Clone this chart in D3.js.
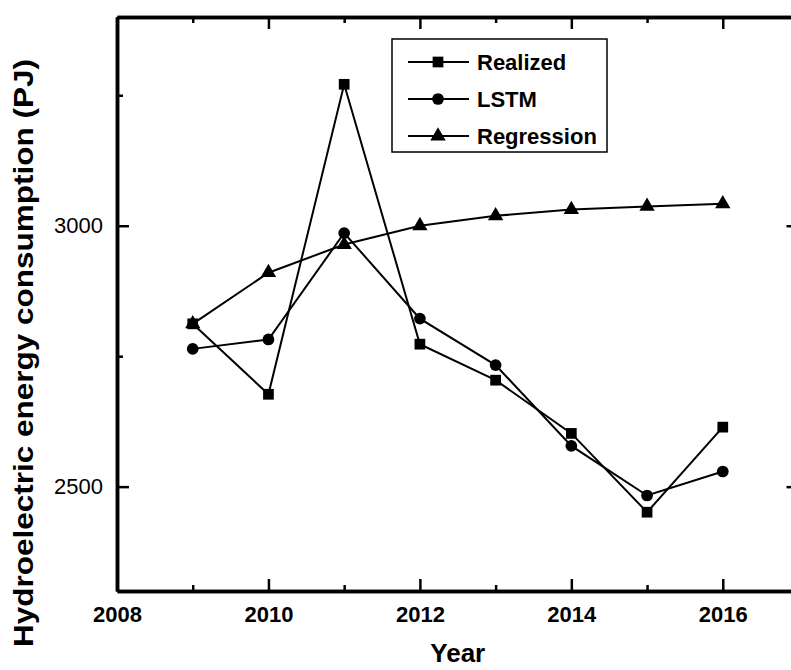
<!DOCTYPE html>
<html>
<head>
<meta charset="utf-8">
<script src="https://cdn.jsdelivr.net/npm/d3@7"></script>
<style>
  body { margin: 0; background: #fff; }
  text { font-family: "Liberation Sans", Arial, sans-serif; fill: #000; }
</style>
</head>
<body>
<script>
// data
var years = [2009, 2010, 2011, 2012, 2013, 2014, 2015, 2016];
var realized = [2812, 2677, 3271, 2773, 2704, 2602, 2451, 2614];
var lstm = [2764, 2782, 2986, 2822, 2733, 2578, 2483, 2529];
var regression = [2812, 2910, 2964, 3000, 3019, 3031, 3037, 3042];
var seriesNames = ["Realized", "LSTM", "Regression"];
var seriesShapes = ["square", "circle", "triangle"];
var xMajorTicks = [2008, 2010, 2012, 2014, 2016];
var xMinorTicks = [2009, 2011, 2013, 2015, 2017];
var yMajorTicks = [2500, 3000];
var yMinorTicks = [2750, 3250];

//Step 1: chart size (right frame edge runs just past the window, as in the source)
var svgWidth = 791;
var svgHeight = 670;
var margin = { top: 17, left: 117 };
var width = 681.5;
var height = 574;

var svg = d3.select("body")
  .append("svg")
  .attr("width", svgWidth)
  .attr("height", svgHeight);

var chartGroup = svg.append("g")
  .attr("transform", `translate(${margin.left}, ${margin.top})`);

// Step 2: scales
var xScale = d3.scaleLinear().domain([2008, 2017]).range([0, width]);
var yScale = d3.scaleLinear().domain([2300, 3400]).range([height, 0]);

// Step 3: axes, ticks pointing inward on all four sides
function styleAxis(g, showLabels, bold) {
  g.select(".domain").attr("stroke-width", 3.5).attr("stroke", "#000");
  g.selectAll(".tick line").attr("stroke-width", 2.5).attr("stroke", "#000");
  g.selectAll(".tick text")
    .style("font-size", "22px")
    .style("font-weight", bold ? "bold" : "normal")
    .style("display", showLabels ? null : "none");
}

var bottomAxis = d3.axisBottom(xScale).tickValues(xMajorTicks)
  .tickFormat(d3.format("d")).tickSizeInner(-12).tickSizeOuter(0).tickPadding(15);
var bottomMinor = d3.axisBottom(xScale).tickValues(xMinorTicks)
  .tickFormat("").tickSizeInner(-6).tickSizeOuter(0);
var topAxis = d3.axisTop(xScale).tickValues(xMajorTicks)
  .tickFormat("").tickSizeInner(-12).tickSizeOuter(0);
var topMinor = d3.axisTop(xScale).tickValues(xMinorTicks)
  .tickFormat("").tickSizeInner(-6).tickSizeOuter(0);
var leftAxis = d3.axisLeft(yScale).tickValues(yMajorTicks)
  .tickFormat(d3.format("d")).tickSizeInner(-12).tickSizeOuter(0).tickPadding(14);
var leftMinor = d3.axisLeft(yScale).tickValues(yMinorTicks)
  .tickFormat("").tickSizeInner(-6).tickSizeOuter(0);
var rightAxis = d3.axisRight(yScale).tickValues(yMajorTicks)
  .tickFormat("").tickSizeInner(-12).tickSizeOuter(0);
var rightMinor = d3.axisRight(yScale).tickValues(yMinorTicks)
  .tickFormat("").tickSizeInner(-6).tickSizeOuter(0);

chartGroup.append("g").attr("transform", `translate(0, ${height})`).call(bottomMinor).call(styleAxis, false);
chartGroup.append("g").attr("transform", `translate(0, ${height})`).call(bottomAxis).call(styleAxis, true, true);
chartGroup.append("g").call(topMinor).call(styleAxis, false);
chartGroup.append("g").call(topAxis).call(styleAxis, false);
chartGroup.append("g").call(leftMinor).call(styleAxis, false);
chartGroup.append("g").call(leftAxis).call(styleAxis, true, false);
chartGroup.append("g").attr("transform", `translate(${width}, 0)`).call(rightMinor).call(styleAxis, false);
chartGroup.append("g").attr("transform", `translate(${width}, 0)`).call(rightAxis).call(styleAxis, false);

// Step 4: lines + markers
var symbolTypes = {
  square: d3.symbol().type(d3.symbolSquare).size(115),
  circle: d3.symbol().type(d3.symbolCircle).size(108),
  triangle: d3.symbol().type(d3.symbolTriangle).size(102)
};

var line = d3.line()
  .x(function(d) { return xScale(d.year); })
  .y(function(d) { return yScale(d.value); });

var allSeries = [realized, lstm, regression];

allSeries.forEach(function(values, i) {
  var points = years.map(function(y, j) { return { year: y, value: values[j] }; });
  chartGroup.append("path")
    .datum(points)
    .attr("d", line)
    .attr("fill", "none")
    .attr("stroke", "#000")
    .attr("stroke-width", 2);
  chartGroup.selectAll(".pt" + i)
    .data(points)
    .enter()
    .append("path")
    .attr("class", "pt" + i)
    .attr("transform", function(d) {
      return `translate(${xScale(d.year)}, ${yScale(d.value)})`;
    })
    .attr("d", symbolTypes[seriesShapes[i]]())
    .attr("fill", "#000");
});

// legend
var legend = svg.append("g").attr("transform", "translate(392, 39)");
legend.append("rect")
  .attr("width", 215)
  .attr("height", 113)
  .attr("fill", "#fff")
  .attr("stroke", "#000")
  .attr("stroke-width", 1.5);

seriesNames.forEach(function(name, i) {
  var row = legend.append("g").attr("transform", `translate(0, ${23 + i * 37})`);
  row.append("line")
    .attr("x1", 16).attr("x2", 77)
    .attr("stroke", "#000").attr("stroke-width", 2);
  row.append("path")
    .attr("transform", "translate(46, 0)")
    .attr("d", symbolTypes[seriesShapes[i]]())
    .attr("fill", "#000");
  row.append("text")
    .attr("x", 85)
    .attr("dy", "0.36em")
    .style("font-size", "22px")
    .style("font-weight", "bold")
    .text(name);
});

// axis titles
svg.append("text")
  .attr("transform", "rotate(-90)")
  .attr("x", -353)
  .attr("y", 33)
  .attr("text-anchor", "middle")
  .attr("textLength", 588)
  .attr("lengthAdjust", "spacingAndGlyphs")
  .style("font-size", "28px")
  .style("font-weight", "bold")
  .text("Hydroelectric energy consumption (PJ)");

svg.append("text")
  .attr("x", margin.left + (798.5 - margin.left) / 2)
  .attr("y", 662)
  .attr("text-anchor", "middle")
  .style("font-size", "26px")
  .style("font-weight", "bold")
  .text("Year");
</script>
</body>
</html>
